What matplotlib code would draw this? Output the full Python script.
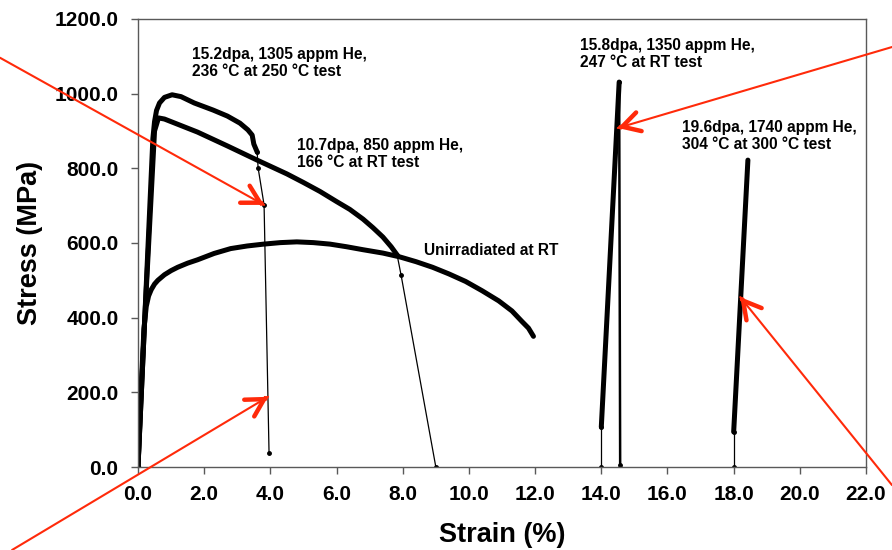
import numpy as np
import matplotlib.pyplot as plt

plt.rcParams['font.family'] = ['Liberation Sans', 'DejaVu Sans']
plt.rcParams['font.weight'] = 'bold'

# 15.2 dpa, tested at 250 C
a_strain = [0.0, 0.2, 0.45, 0.5, 0.56, 0.65, 0.8, 1.03, 1.3, 1.7, 2.27, 2.7, 3.08, 3.32, 3.45, 3.5, 3.6]
a_stress = [0, 390, 880, 925, 955, 975, 990, 997, 992, 975, 956, 940, 921, 903, 889, 865, 844]
a_tail_strain = [3.6, 3.63, 3.81, 3.96]
a_tail_stress = [844, 801, 702, 38]

# 10.7 dpa, RT test
b_strain = [0.0, 0.2, 0.5, 0.62, 0.8, 1.0, 1.8, 2.7, 3.6, 4.5, 5.0, 5.5, 6.0, 6.4, 6.8, 7.1, 7.4, 7.65, 7.83]
b_stress = [0, 390, 900, 935, 932, 925, 897, 860, 822, 785, 762, 738, 711, 690, 664, 641, 616, 590, 568]
b_tail_strain = [7.83, 7.95, 9.0]
b_tail_stress = [568, 514, 0]

# unirradiated, RT
u_strain = [0.0, 0.1, 0.18, 0.25, 0.32, 0.4, 0.5, 0.6, 0.8, 1.0, 1.2, 1.5, 1.8, 2.3, 2.8, 3.3, 3.8, 4.3, 4.8, 5.3,
            5.8, 6.3, 6.8, 7.4, 7.9, 8.4, 8.9, 9.4, 9.9, 10.4, 10.9, 11.3, 11.6, 11.8, 11.95]
u_stress = [0, 220, 370, 430, 458, 475, 490, 500, 515, 526, 535, 546, 555, 572, 585, 592, 597, 601, 603, 601,
            597, 590, 582, 573, 563, 550, 535, 517, 497, 472, 445, 418, 390, 372, 350]

# 15.8 dpa, RT test (offset to 14 %)
c_strain = [14.0, 14.54]
c_stress = [107, 1031]
c_foot_strain = [14.0, 14.0]
c_foot_stress = [0, 107]
c_drop_strain = [14.54, 14.57]
c_drop_stress = [1031, 5]

# 19.6 dpa, tested at 300 C (offset to 18 %)
d_strain = [18.0, 18.43]
d_stress = [94, 822]
d_foot_strain = [18.0, 18.0]
d_foot_stress = [0, 94]

labels = [
    (1.63, 1126, "15.2dpa, 1305 appm He,\n236 \u00b0C at 250 \u00b0C test"),
    (4.8, 882, "10.7dpa, 850 appm He,\n166 \u00b0C at RT test"),
    (8.64, 601, "Unirradiated at RT"),
    (13.36, 1150, "15.8dpa, 1350 appm He,\n247 \u00b0C at RT test"),
    (16.44, 930, "19.6dpa, 1740 appm He,\n304 \u00b0C at 300 \u00b0C test"),
]

# arrow tip (data) and tail (figure fraction)
arrows = [
    ((3.81, 702), (0.0, 0.895)),
    ((3.93, 188), (0.0135, 0.0)),
    ((14.5, 908), (1.0, 0.9145)),
    ((18.2, 455), (1.0, 0.118)),
]

fig = plt.figure(figsize=(8.92, 5.5), dpi=100)
ax = fig.add_axes([0.1547, 0.1509, 0.8162, 0.8146])

thick = dict(color='black', lw=3.6, solid_capstyle='round', solid_joinstyle='round')
thin = dict(color='black', lw=0.9, marker='o', ms=2.5)

ax.plot(u_strain, u_stress, **thick)
ax.plot(b_strain, b_stress, **thick)
ax.plot(a_strain, a_stress, **thick)
ax.plot(a_tail_strain, a_tail_stress, **thin)
ax.plot(b_tail_strain, b_tail_stress, **thin)
ax.plot([0], [0], 'ko', ms=3)

ax.plot(c_foot_strain, c_foot_stress, **thin)
ax.plot(c_strain, c_stress, **thick)
ax.plot(c_drop_strain, c_drop_stress, color='black', lw=1.8, marker='o', ms=2.5)
ax.plot(d_foot_strain, d_foot_stress, **thin)
ax.plot(d_strain, d_stress, **thick)

for x, y, s in labels:
    ax.text(x, y, s, fontsize=11.2, fontweight='bold', ha='left', va='top', linespacing=1.2)

ax.set_xlim(0, 22)
ax.set_ylim(0, 1200)
ax.set_xticks(np.arange(0, 22.1, 2))
ax.set_yticks(np.arange(0, 1201, 200))
ax.set_xticklabels([f"{v:.1f}" for v in np.arange(0, 22.1, 2)])
ax.set_yticklabels([f"{v:.1f}" for v in np.arange(0, 1201, 200)])
ax.tick_params(direction='out', length=5, width=1, color='#595959', labelsize=15, pad=8)
ax.tick_params(axis='y', pad=9)
for lab in ax.get_xticklabels() + ax.get_yticklabels():
    lab.set_fontweight('bold')
for sp in ax.spines.values():
    sp.set_color('#595959')
    sp.set_linewidth(1)

ax.set_xlabel("Strain (%)", fontsize=19.5, fontweight='bold', labelpad=13)
ax.set_ylabel("Stress (MPa)", fontsize=19.5, fontweight='bold', labelpad=8)

red = '#ff2a0a'
for tip, tail in arrows:
    ax.annotate("", xy=tip, xycoords='data', xytext=tail, textcoords='figure fraction',
                arrowprops=dict(arrowstyle='-', color=red, lw=1.5, shrinkA=0, shrinkB=0),
                annotation_clip=False, zorder=5)
    p_tip = ax.transData.transform(tip)
    p_tail = fig.transFigure.transform(tail)
    u = (p_tail - p_tip) / np.hypot(*(p_tail - p_tip))
    back = fig.transFigure.inverted().transform(p_tip + 3 * u)
    ax.annotate("", xy=tip, xycoords='data', xytext=tuple(back), textcoords='figure fraction',
                arrowprops=dict(arrowstyle='->,head_length=1.25,head_width=0.7', color=red,
                                lw=3.2, shrinkA=0, shrinkB=0),
                annotation_clip=False, zorder=6)

fig.savefig("out.png", dpi=100)
